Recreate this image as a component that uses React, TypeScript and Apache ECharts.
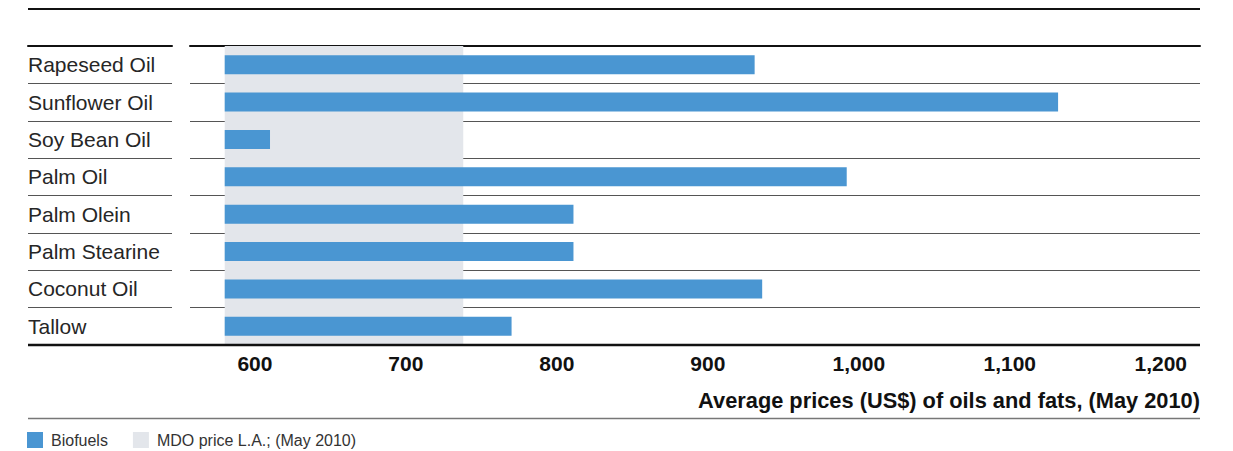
import React, { useEffect, useRef } from "react";
import * as echarts from "echarts";

const categories = [
  "Rapeseed Oil",
  "Sunflower Oil",
  "Soy Bean Oil",
  "Palm Oil",
  "Palm Olein",
  "Palm Stearine",
  "Coconut Oil",
  "Tallow",
];
const biofuelPrices = [931, 1132, 610, 992, 811, 811, 936, 770];
const barBase = 580;
const mdoPrice = 738;
const tickValues = [600, 700, 800, 900, 1000, 1100, 1200];
const seriesNames = ["Biofuels", "MDO price L.A.; (May 2010)"];
const axisTitle = "Average prices (US$) of oils and fats, (May 2010)";

const FONT = "'Liberation Sans', Arial, Helvetica, sans-serif";

export default function App() {
  const ref = useRef<HTMLDivElement>(null);

  useEffect(() => {
    if (!ref.current) return;
    const chart = echarts.init(ref.current, null, { renderer: "svg" });
    const gridTop = 46;
    const gridBottom = 106;
    const rowLine = { show: true, lineStyle: { color: "#555", width: 1.2 } };
    const topLine = { show: true, lineStyle: { color: "#111", width: 2 } };

    chart.setOption({
      animation: false,
      grid: [
        {
          left: 190,
          right: 33,
          top: gridTop,
          bottom: gridBottom,
          containLabel: false,
          outerBoundsMode: "none",
        },
        {
          left: 28,
          width: 144,
          top: gridTop,
          bottom: gridBottom,
          containLabel: false,
          outerBoundsMode: "none",
        },
      ],
      xAxis: [
        {
          gridIndex: 0,
          type: "value",
          min: 557,
          max: 1226,
          axisLine: { show: false },
          axisTick: { show: false },
          splitLine: { show: false },
          axisLabel: {
            customValues: tickValues,
            formatter: (v: number) => v.toLocaleString("en-US"),
            fontSize: 21,
            fontWeight: "bold",
            color: "#111",
            fontFamily: FONT,
            margin: 8,
          },
        },
        {
          gridIndex: 0,
          type: "value",
          position: "top",
          min: 557,
          max: 1226,
          axisLine: topLine,
          axisTick: { show: false },
          axisLabel: { show: false },
          splitLine: { show: false },
        },
        {
          gridIndex: 1,
          type: "value",
          position: "top",
          axisLine: topLine,
          axisTick: { show: false },
          axisLabel: { show: false },
          splitLine: { show: false },
        },
      ],
      yAxis: [
        {
          gridIndex: 0,
          type: "category",
          data: categories,
          inverse: true,
          axisLine: { show: false },
          axisTick: { show: false },
          axisLabel: { show: false },
          splitLine: rowLine,
        },
        {
          gridIndex: 1,
          type: "category",
          data: categories,
          inverse: true,
          axisLine: { show: false },
          axisTick: { show: false },
          axisLabel: {
            align: "left",
            margin: 0,
            fontSize: 21,
            color: "#262626",
            fontFamily: FONT,
          },
          splitLine: rowLine,
        },
      ],
      legend: {
        data: seriesNames,
        left: 27,
        top: 432,
        padding: 0,
        itemWidth: 16,
        itemHeight: 16,
        itemGap: 25,
        icon: "rect",
        textStyle: {
          fontSize: 16,
          color: "#333",
          fontFamily: FONT,
          padding: [0, 0, 0, 3],
        },
      },
      series: [
        {
          type: "bar",
          name: seriesNames[1],
          xAxisIndex: 0,
          yAxisIndex: 0,
          data: [],
          z: 1,
          itemStyle: { color: "#e3e6eb" },
          markArea: {
            silent: true,
            itemStyle: { color: "#e3e6eb" },
            data: [[{ xAxis: barBase }, { xAxis: mdoPrice }]],
          },
        },
        {
          type: "custom",
          name: seriesNames[0],
          xAxisIndex: 0,
          yAxisIndex: 0,
          z: 3,
          itemStyle: { color: "#4a96d2" },
          encode: { x: 0, y: 1 },
          data: biofuelPrices.map((v, i) => [v, i]),
          renderItem: (params: any, api: any) => {
            const yi = api.value(1);
            const s = api.coord([barBase, yi]);
            const e = api.coord([api.value(0), yi]);
            const h = api.size([0, 1])[1] * 0.51;
            return {
              type: "rect",
              shape: { x: s[0], y: s[1] - h / 2, width: e[0] - s[0], height: h },
              style: api.style(),
            };
          },
        },
      ],
      graphic: [
        {
          type: "line",
          shape: { x1: 28, y1: 9, x2: 1200, y2: 9 },
          style: { stroke: "#111", lineWidth: 2 },
          z: 10,
        },
        {
          type: "line",
          shape: { x1: 28, y1: 345, x2: 1200, y2: 345 },
          style: { stroke: "#111", lineWidth: 2.5 },
          z: 10,
        },
        {
          type: "line",
          shape: { x1: 28, y1: 418.5, x2: 1200, y2: 418.5 },
          style: { stroke: "#777", lineWidth: 1.5 },
          z: 10,
        },
        {
          type: "text",
          right: 33,
          top: 389,
          style: {
            text: axisTitle,
            fill: "#111",
            font: `bold 21.8px ${FONT}`,
          },
          z: 10,
        },
      ],
    });

    return () => chart.dispose();
  }, []);

  return (
    <div
      ref={ref}
      style={{ position: "absolute", left: 0, top: 0, width: 1233, height: 451 }}
    />
  );
}
